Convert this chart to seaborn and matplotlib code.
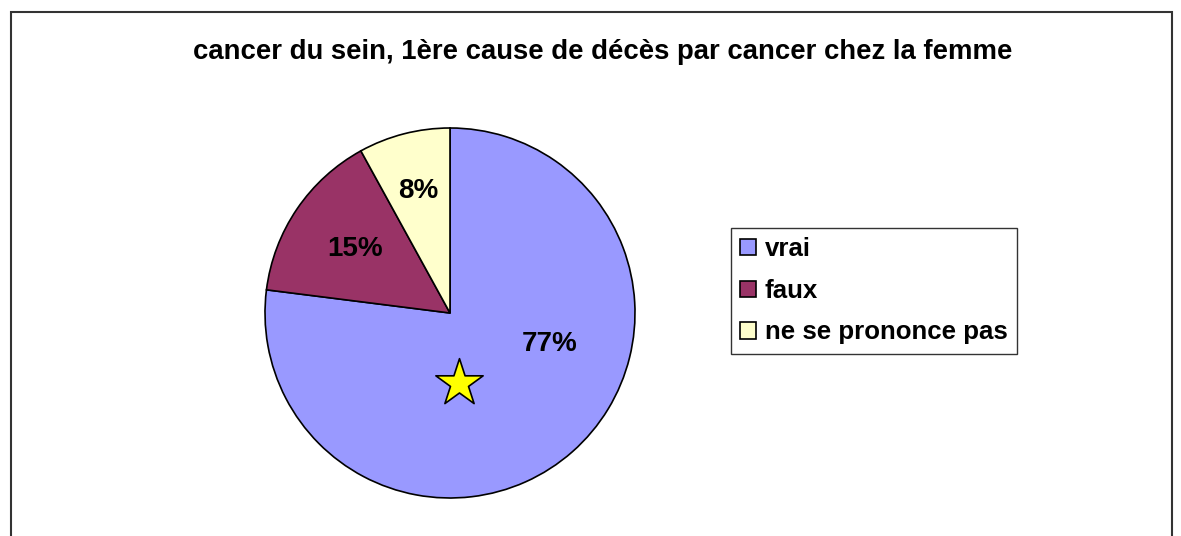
import matplotlib
matplotlib.use("Agg")
import matplotlib.pyplot as plt
import matplotlib.patches as mpatches
import seaborn as sns

sns.set_theme(style="white")
plt.rcParams['font.family'] = ['Liberation Sans', 'DejaVu Sans']
plt.rcParams['text.color'] = 'black'

# Data
labels = ["vrai", "faux", "ne se prononce pas"]
values = [77, 15, 8]
colors = ["#9999FF", "#993366", "#FFFFCC"]
title = "cancer du sein, 1ère cause de décès par cancer chez la femme"

fig = plt.figure(figsize=(11.81, 5.36), dpi=100)
fig.patch.set_facecolor("white")

# outer frame of the chart area
frame = mpatches.Rectangle((11 / 1181, -0.05), (1172 - 11) / 1181, 1.05 - 12 / 536,
                           transform=fig.transFigure, fill=False,
                           edgecolor="#333333", linewidth=1.5, clip_on=False)
fig.patches.append(frame)

ax = fig.add_axes([265 / 1181, 38 / 536, 370 / 1181, 370 / 536])
wedges, texts, autotexts = ax.pie(
    values, colors=colors, startangle=90, counterclock=False,
    autopct="%1.0f%%", pctdistance=0.62, radius=1,
    wedgeprops=dict(edgecolor="black", linewidth=1.2),
    textprops=dict(fontsize=20, fontweight="bold", color="black"))
# shift labels the way the original places them
autotexts[0].set_position((0.54, -0.17))
autotexts[2].set_position((-0.17, 0.66))
ax.set_xlim(-1.0, 1.0)
ax.set_ylim(-1.0, 1.0)
ax.set_aspect("equal")
ax.axis("off")

# star decoration
ax.scatter([0.05], [-0.38], marker="*", s=1280, color="#FFFF00",
           edgecolor="black", linewidth=1.2, zorder=5)

fig.text(603 / 1181, 1 - 52 / 536, title, ha="center", va="center",
         fontsize=19.8, fontweight="bold", color="black")

leg = fig.legend(wedges, labels, loc="upper left",
                 bbox_to_anchor=(731 / 1181, 1 - 228 / 536),
                 frameon=True, fancybox=False, edgecolor="black",
                 prop=dict(size=18.6, weight="bold"),
                 handlelength=0.6, handleheight=0.6, handletextpad=0.35,
                 labelspacing=0.68, borderpad=0.36, borderaxespad=0)
leg.get_frame().set_linewidth(1.0)
for t in leg.get_texts():
    t.set_color("black")

plt.savefig("out.png", dpi=100)
